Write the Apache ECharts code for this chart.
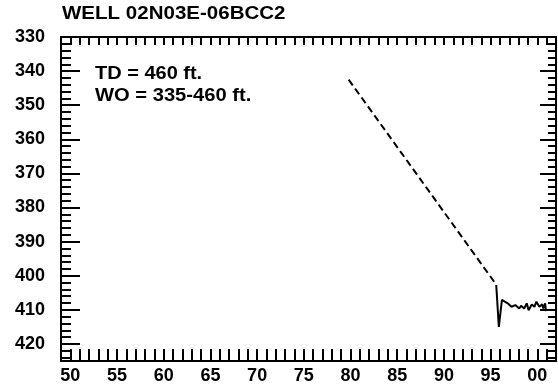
<!DOCTYPE html>
<html>
<head>
<meta charset="utf-8">
<script src="https://cdn.jsdelivr.net/npm/echarts@6/dist/echarts.min.js"></script>
<style>html,body{margin:0;padding:0;background:#fff}#c{width:558px;height:390px}</style>
</head>
<body>
<div id="c"></div>
<script>
const titleText = "WELL 02N03E-06BCC2";
const noteLines = ["TD = 460 ft.", "WO = 335-460 ft."];
const yearLabels = [50, 55, 60, 65, 70, 75, 80, 85, 90, 95, 100];
const depthLabels = [330, 340, 350, 360, 370, 380, 390, 400, 410, 420];
// estimated (dashed) trend
const estYears = [79.8, 95.6];
const estDepths = [342.5, 402.6];
// measured water levels
const measYears = [95.6, 95.88, 96.21, 96.41, 96.83, 97.23, 97.64, 98.06, 98.26, 98.59, 98.87, 99.07, 99.41, 99.69, 99.9, 100.22, 100.52, 100.64, 100.84, 100.92];
const measDepths = [402.7, 415.0, 407.1, 406.8, 408.1, 409.1, 408.6, 409.6, 408.8, 409.6, 408.1, 410.1, 408.4, 409.1, 407.6, 409.1, 408.4, 409.6, 408.1, 410.4];

const FONT = "'Liberation Sans', Arial, Helvetica, sans-serif";
const pair = (xs, ys) => xs.map((x, i) => [x, ys[i]]);
const labelStyle = { color: '#000', fontFamily: FONT, fontWeight: 'bold', fontSize: 18 };
const lineStyle = { lineStyle: { color: '#000', width: 2 } };

const chart = echarts.init(document.getElementById('c'), null, { renderer: 'canvas' });
const xBase = { type: 'value', min: 49, max: 102, interval: 1, splitLine: { show: false }, axisLine: lineStyle };
const yBase = { type: 'value', inverse: true, min: 330, max: 425, splitLine: { show: false }, axisLine: lineStyle };
chart.setOption({
  animation: false,
  grid: { left: 61, right: 2, top: 37, bottom: 29, containLabel: false },
  graphic: [
    { type: 'text', x: 62, y: 14, scaleX: 1.14, style: { text: titleText, fill: '#000', font: "bold 18px " + FONT, textVerticalAlign: 'middle' } },
    { type: 'text', x: 95, y: 74, scaleX: 1.11, style: { text: noteLines[0], fill: '#000', font: "bold 18px " + FONT, textVerticalAlign: 'middle' } },
    { type: 'text', x: 95, y: 96.5, scaleX: 1.12, style: { text: noteLines[1], fill: '#000', font: "bold 18px " + FONT, textVerticalAlign: 'middle' } }
  ],
  xAxis: [
    Object.assign({}, xBase, {
      position: 'bottom',
      axisTick: { inside: true, length: 12, lineStyle: { color: '#000', width: 2 } },
      axisLabel: Object.assign({}, labelStyle, {
        margin: 6, showMinLabel: false, showMaxLabel: false,
        formatter: v => yearLabels.includes(v) ? String(v % 100).padStart(2, '0') : ''
      })
    }),
    Object.assign({}, xBase, {
      position: 'top',
      axisTick: { inside: true, length: 8, lineStyle: { color: '#000', width: 2 } },
      axisLabel: { show: false }
    })
  ],
  yAxis: [
    Object.assign({}, yBase, {
      position: 'left', interval: 10,
      axisTick: { inside: true, length: 19, lineStyle: { color: '#000', width: 2 } },
      axisLabel: Object.assign({}, labelStyle, {
        margin: 16, showMaxLabel: false,
        formatter: v => depthLabels.includes(v) ? String(v) : ''
      })
    }),
    Object.assign({}, yBase, {
      position: 'left', interval: 2,
      axisTick: { inside: true, length: 10, lineStyle: { color: '#000', width: 2 } },
      axisLabel: { show: false }
    }),
    Object.assign({}, yBase, {
      position: 'right', interval: 10,
      axisTick: { inside: true, length: 16, lineStyle: { color: '#000', width: 2 } },
      axisLabel: { show: false }
    }),
    Object.assign({}, yBase, {
      position: 'right', interval: 2,
      axisTick: { inside: true, length: 8, lineStyle: { color: '#000', width: 2 } },
      axisLabel: { show: false }
    })
  ],
  series: [
    {
      type: 'line', xAxisIndex: 0, yAxisIndex: 0, data: pair(estYears, estDepths),
      showSymbol: false, symbol: 'none',
      lineStyle: { color: '#000', width: 2, type: [7, 4] }
    },
    {
      type: 'line', xAxisIndex: 0, yAxisIndex: 0, data: pair(measYears, measDepths),
      showSymbol: false, symbol: 'none',
      lineStyle: { color: '#000', width: 2 }
    }
  ]
});
</script>
</body>
</html>
